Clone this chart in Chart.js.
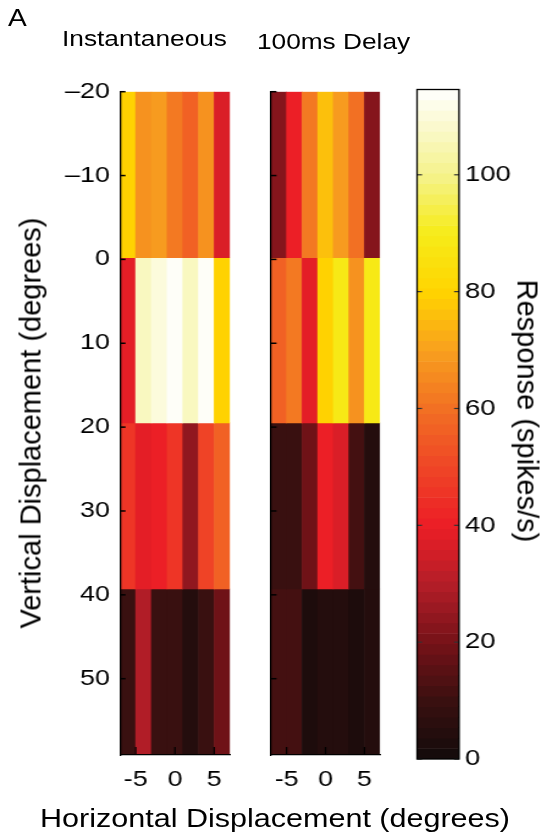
<!DOCTYPE html>
<html>
<head>
<meta charset="utf-8">
<script src="https://cdn.jsdelivr.net/npm/chart.js@4.4.1/dist/chart.umd.min.js"></script>
<style>
  html, body { margin: 0; padding: 0; background: #fff; width: 552px; height: 836px; overflow: hidden; }
  /* the reference is stretched sideways, so draw at 452px wide and widen it */
  #fig { position: absolute; left: 0; top: 0; width: 452px; height: 836px;
         transform: scaleX(1.2212); transform-origin: 0 0; }
  #fig canvas { position: absolute; top: 0; }
  .lbl { position: absolute; white-space: nowrap; line-height: 1;
         font-family: 'Liberation Sans', Arial, Helvetica, sans-serif; color: #000; }
  .vt { font-size: 29px; transform: translate(-50%, -50%) rotate(-90deg); }
</style>
</head>
<body>
<div id="fig">
  <div class="lbl" style="left:6.6px; top:6.8px; font-size:23px;">A</div>
  <div class="lbl" style="left:50.8px; top:28.5px; font-size:21.5px;">Instantaneous</div>
  <div class="lbl" style="left:210.4px; top:31.8px; font-size:21.5px;">100ms Delay</div>
  <div class="lbl" style="left:225.2px; top:806px; font-size:25px; transform:translateX(-50%);">Horizontal Displacement (degrees)</div>
  <canvas id="inst" width="200" height="836" style="left:0px"></canvas>
  <canvas id="delay" width="125" height="836" style="left:200px"></canvas>
  <canvas id="cbar" width="127" height="836" style="left:325px"></canvas>
</div>
<!-- the upright titles are not stretched in the reference -->
<div class="lbl vt" style="left:31px; top:423px;">Vertical Displacement (degrees)</div>
<div class="lbl vt" style="left:527px; top:411px; transform:translate(-50%, -50%) rotate(90deg);">Response (spikes/s)</div>
<script>
// column centres and row edges, in degrees
const xCenters = [-6, -4, -2, 0, 2, 4, 6];
const yEdges = [-20, -0.2, 19.5, 39.3, 59.1];
const xTicks = [-5, 0, 5];
const yTicks = [-20, -10, 0, 10, 20, 30, 40, 50];
const cbarTicks = [0, 20, 40, 60, 80, 100];
const cMax = 114.6;

// responses (spikes/s), rows top to bottom, columns left to right
const instantaneous = [
  [80, 68, 69, 62, 57, 68, 37],
  [39, 106, 110, 114, 106, 114, 80],
  [46, 39, 41, 46, 25, 50, 56],
  [10, 30, 10, 9, 4, 9, 18],
];
const delayed = [
  [22, 41, 62, 76, 69, 60, 23],
  [57, 62, 39, 80, 89, 68, 89],
  [9, 9, 18, 41, 36, 11, 5],
  [12, 12, 2, 4, 4, 2, 4],
];

// "hot" colour map as it looks in the print
const mapStops = [0, 10, 20, 30, 40, 50, 60, 70, 80, 90, 100, 114.6];
const mapRGB = [
  [18, 10, 10], [58, 16, 16], [118, 18, 24], [180, 30, 40], [236, 30, 38],
  [239, 70, 38], [242, 112, 35], [248, 160, 30], [255, 212, 0],
  [246, 236, 25], [245, 242, 140], [255, 255, 255],
];
const nColors = 64;

function heat(v) {
  const i = Math.min(nColors - 1, Math.max(0, Math.floor(v / cMax * nColors)));
  const q = (i + 0.5) * cMax / nColors;
  let k = 0;
  while (k < mapStops.length - 2 && q > mapStops[k + 1]) k++;
  const t = (q - mapStops[k]) / (mapStops[k + 1] - mapStops[k]);
  const a = mapRGB[k], b = mapRGB[k + 1];
  return 'rgb(' + a.map((c, j) => Math.round(c + (b[j] - c) * t)).join(',') + ')';
}

// tick marks pointing into the plot, like matlab draws them
const inTicks = {
  id: 'inTicks',
  afterDatasetsDraw(chart, args, opts) {
    const {ctx, chartArea: a} = chart;
    ctx.save();
    ctx.strokeStyle = opts.color || '#000';
    for (const m of opts.marks || []) {
      const s = chart.scales[m.axis];
      ctx.lineWidth = m.width;
      for (const t of s.ticks) {
        const p = s.getPixelForValue(t.value);
        ctx.beginPath();
        if (m.side === 'left') { ctx.moveTo(a.left, p); ctx.lineTo(a.left + m.len, p); }
        else if (m.side === 'right') { ctx.moveTo(a.right, p); ctx.lineTo(a.right - m.len, p); }
        else { ctx.moveTo(p, a.bottom); ctx.lineTo(p, a.bottom - m.len); }
        ctx.stroke();
      }
    }
    if (opts.box) {
      ctx.strokeStyle = '#000';
      ctx.lineWidth = opts.box;
      ctx.strokeRect(a.left, a.top, a.right - a.left, a.bottom - a.top);
    }
    ctx.restore();
  }
};

Chart.defaults.font.family = "'Liberation Sans', Arial, Helvetica, sans-serif";
Chart.defaults.color = '#000';

function panel(id, grid, yWidth, rightPad, showY) {
  const datasets = grid.map((row, r) => ({
    data: row.map((v, c) => ({x: xCenters[c], y: [yEdges[r], yEdges[r + 1]]})),
    backgroundColor: row.map(heat),
    borderWidth: 0,
    grouped: false,
    barPercentage: 1,
    categoryPercentage: 1,
  }));
  return new Chart(document.getElementById(id), {
    type: 'bar',
    data: {datasets: datasets},
    options: {
      responsive: false,
      animation: false,
      layout: {padding: {left: 0, right: rightPad, top: 91.7, bottom: 41}},
      plugins: {
        legend: {display: false},
        tooltip: {enabled: false},
        inTicks: {marks: [
          {axis: 'y', side: 'left', len: 4.5, width: 1.5},
          {axis: 'x', side: 'bottom', len: 8, width: 1.2},
        ]},
      },
      scales: {
        x: {
          type: 'linear', min: -7, max: 7, offset: false,
          grid: {display: false, drawTicks: false},
          border: {display: true, color: '#000', width: 1.2, z: 1},
          ticks: {font: {size: 22}, padding: 12, maxRotation: 0, autoSkip: false},
          afterBuildTicks: s => { s.ticks = xTicks.map(value => ({value})); },
          afterFit: s => { s.height = 40; },
        },
        y: {
          type: 'linear', reverse: true, min: yEdges[0], max: yEdges[yEdges.length - 1],
          grid: {display: false, drawTicks: false},
          border: {display: true, color: '#000', width: 1.3, z: 1},
          ticks: {
            display: showY, font: {size: 22}, padding: 8.2,
            callback: v => (v < 0 ? '\u2013' + (-v) : String(v)),
          },
          afterBuildTicks: s => { s.ticks = yTicks.map(value => ({value})); },
          afterFit: s => { s.width = yWidth; },
        },
      },
    },
    plugins: [inTicks],
  });
}

panel('inst', instantaneous, 98.26, 11.7, true);
panel('delay', delayed, 21.9, 13.8, false);

// colour bar: one band per colour of the map
const bands = [];
for (let i = 0; i < nColors; i++) bands.push([i * cMax / nColors, (i + 1) * cMax / nColors]);

new Chart(document.getElementById('cbar'), {
  type: 'bar',
  data: {
    labels: ['c'],
    datasets: [{
      data: bands.map(b => ({x: 'c', y: b})),
      backgroundColor: bands.map(b => heat((b[0] + b[1]) / 2)),
      borderWidth: 0,
      barPercentage: 1,
      categoryPercentage: 1,
    }],
  },
  options: {
    responsive: false,
    animation: false,
    layout: {padding: {left: 16.5, right: 0, top: 89.5, bottom: 77}},
    plugins: {
      legend: {display: false},
      tooltip: {enabled: false},
      inTicks: {color: '#333', box: 1.3, marks: [
        {axis: 'y', side: 'left', len: 4.1, width: 1.2},
        {axis: 'y', side: 'right', len: 4.1, width: 1.2},
      ]},
    },
    scales: {
      x: {display: false},
      y: {
        position: 'right', min: 0, max: cMax,
        grid: {display: false, drawTicks: false},
        border: {display: false},
        ticks: {font: {size: 22.5}, padding: 4.9},
        afterBuildTicks: s => { s.ticks = cbarTicks.map(value => ({value})); },
        afterFit: s => { s.width = 76.1; },
      },
    },
  },
  plugins: [inTicks],
});
</script>
</body>
</html>
